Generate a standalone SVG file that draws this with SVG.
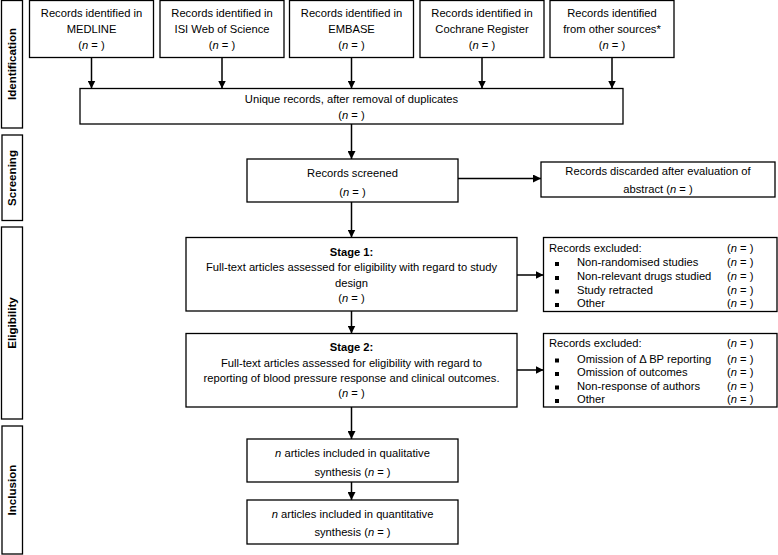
<svg xmlns="http://www.w3.org/2000/svg" width="778" height="555" viewBox="0 0 778 555">
<style>
text{font-family:"Liberation Sans",Arial,sans-serif;font-size:11.2px;fill:#000}
.c{text-anchor:middle}
.b{font-weight:bold}
.sl{font-weight:bold;font-size:11.6px}
.box{fill:#fff;stroke:#000;stroke-width:1.3}
.side{fill:#fff;stroke:#000;stroke-width:1.3}
.con{stroke:#000;stroke-width:1.5;fill:none}
</style>
<defs>
<marker id="ah" viewBox="0 0 8 8" refX="8" refY="4" markerWidth="8" markerHeight="8" markerUnits="userSpaceOnUse" orient="auto">
<path d="M0,0 L8,4 L0,8 z" fill="#000"/>
</marker>
</defs>
<rect width="778" height="555" fill="#fff"/>

<g id="phase-identification">
<rect class="side" x="1.5" y="0.5" width="21" height="127.5"/>
<text class="c sl" transform="translate(16,64) rotate(-90)">Identification</text>
</g>
<g id="phase-screening">
<rect class="side" x="2" y="135" width="20.5" height="85.5"/>
<text class="c sl" transform="translate(16,178) rotate(-90)">Screening</text>
</g>
<g id="phase-eligibility">
<rect class="side" x="1.5" y="227" width="21" height="192"/>
<text class="c sl" transform="translate(16,323) rotate(-90)">Eligibility</text>
</g>
<g id="phase-inclusion">
<rect class="side" x="2" y="426" width="20.5" height="128"/>
<text class="c sl" transform="translate(16,490) rotate(-90)">Inclusion</text>
</g>

<g id="medline">
<rect class="box" x="29.5" y="0.5" width="124" height="57"/>
<text class="c" x="91.5" y="17">Records identified in</text>
<text class="c" x="91.5" y="33">MEDLINE</text>
<text class="c" x="91.5" y="49">(<tspan font-style="italic">n</tspan> = )</text>
</g>
<g id="isi">
<rect class="box" x="160" y="0.5" width="124" height="57"/>
<text class="c" x="222" y="17">Records identified in</text>
<text class="c" x="222" y="33">ISI Web of Science</text>
<text class="c" x="222" y="49">(<tspan font-style="italic">n</tspan> = )</text>
</g>
<g id="embase">
<rect class="box" x="289.5" y="0.5" width="124" height="57"/>
<text class="c" x="351.5" y="17">Records identified in</text>
<text class="c" x="351.5" y="33">EMBASE</text>
<text class="c" x="351.5" y="49">(<tspan font-style="italic">n</tspan> = )</text>
</g>
<g id="cochrane">
<rect class="box" x="420" y="0.5" width="124" height="57"/>
<text class="c" x="482" y="17">Records identified in</text>
<text class="c" x="482" y="33">Cochrane Register</text>
<text class="c" x="482" y="49">(<tspan font-style="italic">n</tspan> = )</text>
</g>
<g id="other">
<rect class="box" x="550" y="0.5" width="124" height="57"/>
<text class="c" x="612" y="17">Records identified</text>
<text class="c" x="612" y="33">from other sources*</text>
<text class="c" x="612" y="49">(<tspan font-style="italic">n</tspan> = )</text>
</g>

<g id="unique">
<rect class="box" x="80" y="88.5" width="543" height="35.5"/>
<text class="c" x="351.5" y="103">Unique records, after removal of duplicates</text>
<text class="c" x="351.5" y="119">(<tspan font-style="italic">n</tspan> = )</text>
</g>

<g id="screened">
<rect class="box" x="247" y="159" width="211" height="43"/>
<text class="c" x="352.5" y="177">Records screened</text>
<text class="c" x="352.5" y="196">(<tspan font-style="italic">n</tspan> = )</text>
</g>

<g id="discarded">
<rect class="box" x="541" y="162" width="234" height="35"/>
<text class="c" x="658" y="175">Records discarded after evaluation of</text>
<text class="c" x="658" y="193">abstract (<tspan font-style="italic">n</tspan> = )</text>
</g>

<g id="stage1">
<rect class="box" x="186" y="237.5" width="331" height="73.5"/>
<text class="c b" x="351.5" y="256">Stage 1:</text>
<text class="c" x="351.5" y="271">Full-text articles assessed for eligibility with regard to study</text>
<text class="c" x="351.5" y="287">design</text>
<text class="c" x="351.5" y="302">(<tspan font-style="italic">n</tspan> = )</text>
</g>

<g id="excluded1">
<rect class="box" x="543.5" y="237.5" width="233.5" height="74"/>
<text x="549" y="252">Records excluded:</text>
<text x="727" y="252">(<tspan font-style="italic">n</tspan> = )</text>
<rect x="555" y="262" width="4" height="4"/>
<text x="577" y="266">Non-randomised studies</text>
<text x="727" y="266">(<tspan font-style="italic">n</tspan> = )</text>
<rect x="555" y="276" width="4" height="4"/>
<text x="577" y="280">Non-relevant drugs studied</text>
<text x="727" y="280">(<tspan font-style="italic">n</tspan> = )</text>
<rect x="555" y="289.5" width="4" height="4"/>
<text x="577" y="293.5">Study retracted</text>
<text x="727" y="293.5">(<tspan font-style="italic">n</tspan> = )</text>
<rect x="555" y="303" width="4" height="4"/>
<text x="577" y="307">Other</text>
<text x="727" y="307">(<tspan font-style="italic">n</tspan> = )</text>
</g>

<g id="stage2">
<rect class="box" x="186" y="333.5" width="331" height="73.5"/>
<text class="c b" x="351.5" y="351">Stage 2:</text>
<text class="c" x="351.5" y="367">Full-text articles assessed for eligibility with regard to</text>
<text class="c" x="351.5" y="382">reporting of blood pressure response and clinical outcomes.</text>
<text class="c" x="351.5" y="397">(<tspan font-style="italic">n</tspan> = )</text>
</g>

<g id="excluded2">
<rect class="box" x="543.5" y="333.5" width="233.5" height="73.5"/>
<text x="549" y="347">Records excluded:</text>
<text x="727" y="347">(<tspan font-style="italic">n</tspan> = )</text>
<rect x="555" y="358.5" width="4" height="4"/>
<text x="577" y="363">Omission of Δ BP reporting</text>
<text x="727" y="363">(<tspan font-style="italic">n</tspan> = )</text>
<rect x="555" y="372" width="4" height="4"/>
<text x="577" y="376">Omission of outcomes</text>
<text x="727" y="376">(<tspan font-style="italic">n</tspan> = )</text>
<rect x="555" y="385.5" width="4" height="4"/>
<text x="577" y="390">Non-response of authors</text>
<text x="727" y="390">(<tspan font-style="italic">n</tspan> = )</text>
<rect x="555" y="399" width="4" height="4"/>
<text x="577" y="403">Other</text>
<text x="727" y="403">(<tspan font-style="italic">n</tspan> = )</text>
</g>

<g id="qualitative">
<rect class="box" x="247" y="439" width="211" height="43"/>
<text class="c" x="352.5" y="457"><tspan font-style="italic">n</tspan> articles included in qualitative</text>
<text class="c" x="352.5" y="476">synthesis (<tspan font-style="italic">n</tspan> = )</text>
</g>

<g id="quantitative">
<rect class="box" x="247" y="500" width="211" height="44"/>
<text class="c" x="352.5" y="518"><tspan font-style="italic">n</tspan> articles included in quantitative</text>
<text class="c" x="352.5" y="536">synthesis (<tspan font-style="italic">n</tspan> = )</text>
</g>

<g id="connectors">
<line class="con" x1="91.5" y1="57.5" x2="91.5" y2="88.5" marker-end="url(#ah)"/>
<line class="con" x1="222" y1="57.5" x2="222" y2="88.5" marker-end="url(#ah)"/>
<line class="con" x1="351.5" y1="57.5" x2="351.5" y2="88.5" marker-end="url(#ah)"/>
<line class="con" x1="482" y1="57.5" x2="482" y2="88.5" marker-end="url(#ah)"/>
<line class="con" x1="612" y1="57.5" x2="612" y2="88.5" marker-end="url(#ah)"/>
<line class="con" x1="351.5" y1="124" x2="351.5" y2="159" marker-end="url(#ah)"/>
<line class="con" x1="458" y1="178.5" x2="541" y2="178.5" marker-end="url(#ah)"/>
<line class="con" x1="351.5" y1="202" x2="351.5" y2="237.5" marker-end="url(#ah)"/>
<line class="con" x1="517" y1="275" x2="543.5" y2="275" marker-end="url(#ah)"/>
<line class="con" x1="351.5" y1="311" x2="351.5" y2="333.5" marker-end="url(#ah)"/>
<line class="con" x1="517" y1="370" x2="543.5" y2="370" marker-end="url(#ah)"/>
<line class="con" x1="351.5" y1="407" x2="351.5" y2="439" marker-end="url(#ah)"/>
<line class="con" x1="351.5" y1="482" x2="351.5" y2="500" marker-end="url(#ah)"/>
</g>
</svg>
